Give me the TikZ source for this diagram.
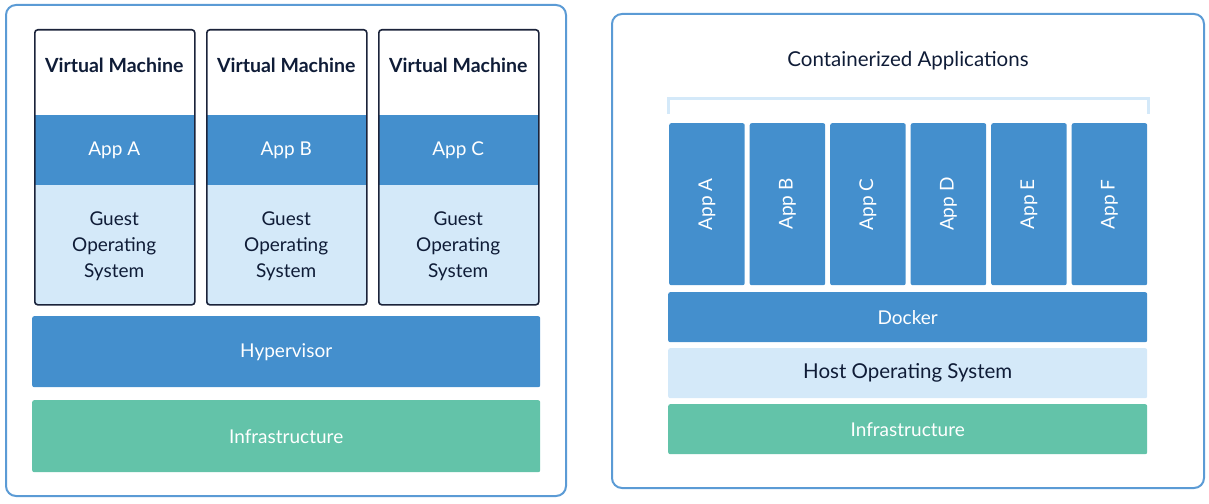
\documentclass[tikz,border=0pt]{standalone}
\usepackage{fontspec}
\setmainfont{Lato}

\definecolor{layerblue}{HTML}{448FCD}
\definecolor{paleblue}{HTML}{D4E9F9}
\definecolor{infragreen}{HTML}{63C3A9}
\definecolor{framblue}{HTML}{5B9BD5}
\definecolor{vmnavy}{HTML}{1B233A}
\definecolor{textnavy}{HTML}{0F1C37}

\tikzset{
    layer/.style={anchor=north west, inner sep=0pt, rounded corners=2pt,
        font=\fontsize{19}{22}\selectfont},
    band/.style={anchor=north west, inner sep=0pt, minimum width=160pt,
        font=\fontsize{19}{26}\selectfont, align=center},
    vmbox/.style={anchor=north west, draw=vmnavy, line width=1.6pt,
        rounded corners=3pt, minimum width=160pt, minimum height=275pt, inner sep=0pt},
    appcol/.style={anchor=north west, fill=layerblue, rounded corners=2pt,
        minimum width=75.5pt, minimum height=162pt, inner sep=0pt},
    frame/.style={draw=framblue, line width=2pt, rounded corners=10pt}
}

\begin{document}
\begin{tikzpicture}[x=1pt, y=-1pt]
    \useasboundingbox (0,0) rectangle (1209,503);

    % 1. Outer frames
    \draw[frame] (6,5) rectangle (566,496);
    \draw[frame] (612,14) rectangle (1204,488);

    % 2. Virtual machines (left)
    \foreach \v/\x/\app in {1/34/A, 2/206/B, 3/378/C} {
        \node[band, fill=layerblue, text=white, minimum height=70pt] (app\v) at (\x,115) {App \app};
        \node[band, fill=paleblue, text=textnavy, minimum height=119pt, text depth=-4pt] (guest\v) at (\x,185)
            {Guest\\Operating\\System};
        \node[vmbox] (vm\v) at (\x,29) {};
        \node[font=\fontsize{19.5}{22}\selectfont\bfseries, text=textnavy] (vmt\v)
            at ([yshift=50pt]app\v.north) {Virtual Machine};
    }

    % Hypervisor and infrastructure
    \node[layer, fill=layerblue, text=white, minimum width=508pt, minimum height=71pt]
        (hyper) at (32,316) {Hypervisor};
    \node[layer, fill=infragreen, text=white, minimum width=508pt, minimum height=72pt]
        (infraL) at (32,400) {Infrastructure};

    % 3. Containers (right)
    \node[font=\fontsize{20.5}{22}\selectfont, text=textnavy] (ctitle) at (908,61) {Containerized Applications};

    % Bracket over the apps
    \coordinate (brL) at (668,114);
    \coordinate (brR) at (1148,114);
    \draw[paleblue, line width=3pt] (brL) -- ++(0,-16) -| (brR);

    \foreach \i/\n in {0/A, 1/B, 2/C, 3/D, 4/E, 5/F} {
        \node[appcol] (col\i) at ({669+80.5*\i},123) {};
        \node[rotate=90, text=white, font=\fontsize{19}{22}\selectfont] (lbl\i) at (col\i.center) {App \n};
    }

    % Docker, host OS, infrastructure
    \node[layer, fill=layerblue, text=white, minimum width=479pt, minimum height=50pt]
        (docker) at (668,292) {Docker};
    \node[layer, fill=paleblue, text=textnavy, minimum width=479pt, minimum height=50pt,
        font=\fontsize{20.5}{22}\selectfont] (hostos) at (668,348) {Host Operating System};
    \node[layer, fill=infragreen, text=white, minimum width=479pt, minimum height=50pt]
        (infraR) at (668,404) {Infrastructure};

\end{tikzpicture}
\end{document}
